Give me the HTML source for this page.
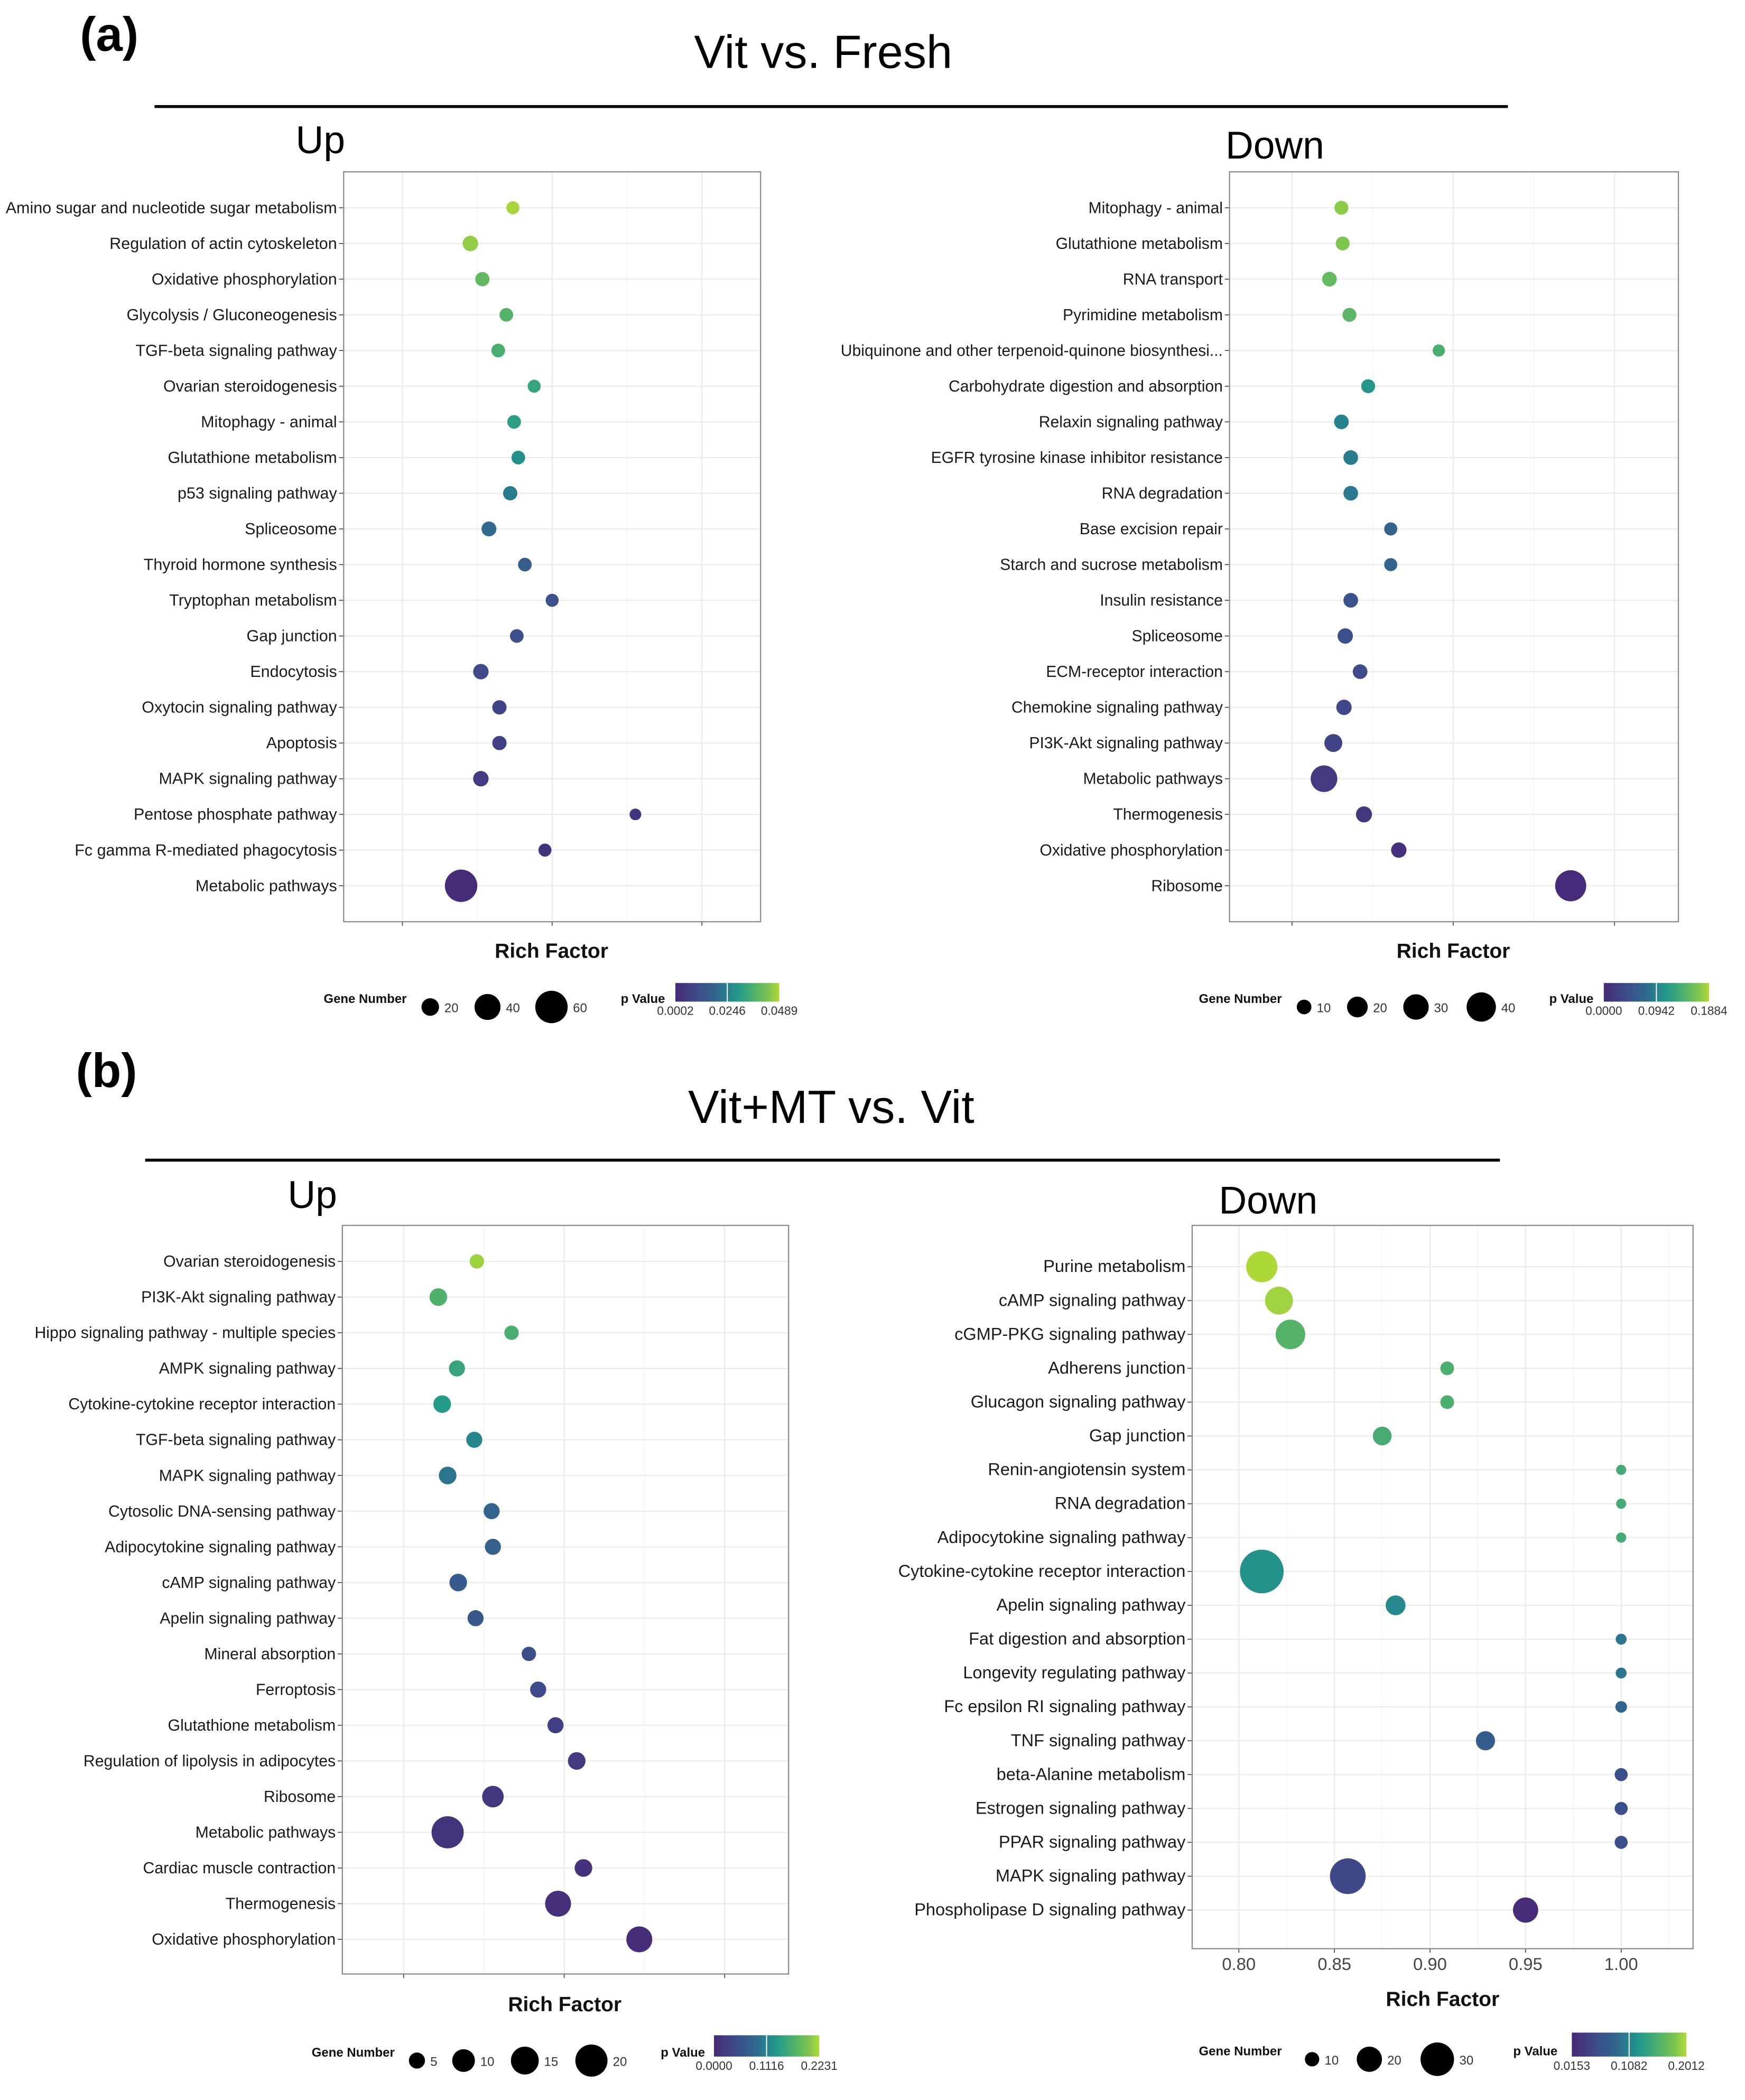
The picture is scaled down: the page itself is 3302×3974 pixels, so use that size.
<!DOCTYPE html>
<html><head><meta charset="utf-8"><title>KEGG enrichment bubble charts</title>
<style>
html,body{margin:0;padding:0;background:#fff;}
svg{display:block;font-family:"Liberation Sans",Arial,sans-serif;}
</style></head>
<body>
<svg id="fig" xmlns="http://www.w3.org/2000/svg" width="3302" height="3974" viewBox="0 0 1310 1576.6">
<defs>
<linearGradient id="vir" x1="0" x2="1" y1="0" y2="0">
<stop offset="0" stop-color="#482878"/><stop offset="0.2" stop-color="#3e4a89"/><stop offset="0.4" stop-color="#31688e"/><stop offset="0.5" stop-color="#26828e"/><stop offset="0.6" stop-color="#23998a"/><stop offset="0.75" stop-color="#4caf6e"/><stop offset="0.9" stop-color="#7dc550"/><stop offset="1" stop-color="#b0da36"/>
</linearGradient>
</defs>
<text x="60" y="38" font-size="36" font-weight="bold">(a)</text>
<text x="618" y="51" font-size="35" text-anchor="middle">Vit vs. Fresh</text>
<line x1="116" x2="1132" y1="80" y2="80" stroke="#000" stroke-width="2.2"/>
<text x="222" y="115" font-size="29">Up</text>
<text x="920" y="119" font-size="29">Down</text>
<text x="57" y="816" font-size="36" font-weight="bold">(b)</text>
<text x="624" y="843" font-size="35" text-anchor="middle">Vit+MT vs. Vit</text>
<line x1="109" x2="1126" y1="871" y2="871" stroke="#000" stroke-width="2.2"/>
<text x="216" y="907" font-size="29">Up</text>
<text x="915" y="911" font-size="29">Down</text>
<g id="plots"></g>
</svg>
<script>
// ---------- Panel a Up ----------
const aUpLabels = ["Amino sugar and nucleotide sugar metabolism","Regulation of actin cytoskeleton","Oxidative phosphorylation","Glycolysis / Gluconeogenesis","TGF-beta signaling pathway","Ovarian steroidogenesis","Mitophagy - animal","Glutathione metabolism","p53 signaling pathway","Spliceosome","Thyroid hormone synthesis","Tryptophan metabolism","Gap junction","Endocytosis","Oxytocin signaling pathway","Apoptosis","MAPK signaling pathway","Pentose phosphate pathway","Fc gamma R-mediated phagocytosis","Metabolic pathways"];
const aUpRich = [0.1369,0.1227,0.1267,0.1347,0.1320,0.1440,0.1373,0.1387,0.1360,0.1289,0.1409,0.1500,0.1382,0.1262,0.1324,0.1324,0.1262,0.1778,0.1476,0.1196];
const aUpGenes = [12,16,14,13,13,12,13,13,14,15,13,12,13,16,14,14,16,10,12,60];
const aUpP = [0.048,0.046,0.040,0.038,0.036,0.033,0.031,0.027,0.023,0.020,0.016,0.013,0.012,0.010,0.008,0.007,0.006,0.004,0.003,0.001];
const aUpTicks = [0.10,0.15,0.20];
const aUpTickLabels = ["","",""];
const aUpSizeLegend = [20,40,60];
const aUpPLegend = ["0.0002","0.0246","0.0489"];
const aUpPRange = [0.0002,0.0489];

// ---------- Panel a Down ----------
const aDnLabels = ["Mitophagy - animal","Glutathione metabolism","RNA transport","Pyrimidine metabolism","Ubiquinone and other terpenoid-quinone biosynthesi...","Carbohydrate digestion and absorption","Relaxin signaling pathway","EGFR tyrosine kinase inhibitor resistance","RNA degradation","Base excision repair","Starch and sucrose metabolism","Insulin resistance","Spliceosome","ECM-receptor interaction","Chemokine signaling pathway","PI3K-Akt signaling pathway","Metabolic pathways","Thermogenesis","Oxidative phosphorylation","Ribosome"];
const aDnRich = [0.0653,0.0657,0.0616,0.0678,0.0955,0.0736,0.0653,0.0682,0.0682,0.0806,0.0806,0.0682,0.0665,0.0711,0.0661,0.0628,0.0599,0.0723,0.0831,0.1364];
const aDnGenes = [9,9,10,9,7,9,10,10,10,8,8,10,11,10,11,15,33,12,11,45];
const aDnP = [0.175,0.170,0.155,0.150,0.140,0.110,0.095,0.090,0.088,0.070,0.070,0.050,0.045,0.040,0.035,0.030,0.020,0.015,0.010,0.002];
const aDnTicks = [0.05,0.10,0.15];
const aDnTickLabels = ["","",""];
const aDnSizeLegend = [10,20,30,40];
const aDnPLegend = ["0.0000","0.0942","0.1884"];
const aDnPRange = [0,0.1884];

// ---------- Panel b Up ----------
const bUpLabels = ["Ovarian steroidogenesis","PI3K-Akt signaling pathway","Hippo signaling pathway - multiple species","AMPK signaling pathway","Cytokine-cytokine receptor interaction","TGF-beta signaling pathway","MAPK signaling pathway","Cytosolic DNA-sensing pathway","Adipocytokine signaling pathway","cAMP signaling pathway","Apelin signaling pathway","Mineral absorption","Ferroptosis","Glutathione metabolism","Regulation of lipolysis in adipocytes","Ribosome","Metabolic pathways","Cardiac muscle contraction","Thermogenesis","Oxidative phosphorylation"];
const bUpRich = [0.1228,0.1108,0.1336,0.1166,0.1120,0.1220,0.1137,0.1274,0.1278,0.1170,0.1224,0.1390,0.1419,0.1473,0.1539,0.1278,0.1137,0.1560,0.1481,0.1734];
const bUpGenes = [4,6,4,5,6,5,6,5,5,6,5,4,5,5,6,9,20,6,13,13];
const bUpP = [0.215,0.170,0.165,0.150,0.135,0.115,0.100,0.085,0.080,0.070,0.065,0.050,0.045,0.030,0.025,0.020,0.015,0.012,0.010,0.005];
const bUpTicks = [0.10,0.15,0.20];
const bUpTickLabels = ["","",""];
const bUpSizeLegend = [5,10,15,20];
const bUpPLegend = ["0.0000","0.1116","0.2231"];
const bUpPRange = [0,0.2231];

// ---------- Panel b Down ----------
const bDnLabels = ["Purine metabolism","cAMP signaling pathway","cGMP-PKG signaling pathway","Adherens junction","Glucagon signaling pathway","Gap junction","Renin-angiotensin system","RNA degradation","Adipocytokine signaling pathway","Cytokine-cytokine receptor interaction","Apelin signaling pathway","Fat digestion and absorption","Longevity regulating pathway","Fc epsilon RI signaling pathway","TNF signaling pathway","beta-Alanine metabolism","Estrogen signaling pathway","PPAR signaling pathway","MAPK signaling pathway","Phospholipase D signaling pathway"];
const bDnRich = [0.812,0.821,0.827,0.909,0.909,0.875,1.000,1.000,1.000,0.812,0.882,1.000,1.000,1.000,0.929,1.000,1.000,1.000,0.857,0.950];
const bDnGenes = [27,23,25,9.5,9.5,13.6,7,7,7,45,14.6,7.5,7.5,8,14,9,9,9,33,20];
const bDnP = [0.200,0.195,0.160,0.155,0.155,0.150,0.150,0.150,0.150,0.120,0.115,0.100,0.100,0.085,0.075,0.060,0.060,0.060,0.050,0.020];
const bDnTicks = [0.80,0.85,0.90,0.95,1.00];
const bDnTickLabels = ["0.80","0.85","0.90","0.95","1.00"];
const bDnSizeLegend = [10,20,30];
const bDnPLegend = ["0.0153","0.1082","0.2012"];
const bDnPRange = [0.0153,0.2012];

const NS = "http://www.w3.org/2000/svg";
const root = document.getElementById("plots");
const stops = [[0,[72,40,120]],[0.2,[62,74,137]],[0.4,[49,104,142]],[0.5,[38,130,142]],[0.6,[35,153,138]],[0.75,[76,175,110]],[0.9,[125,197,80]],[1,[176,218,54]]];
function viridis(t){
  t = Math.max(0,Math.min(1,t));
  for(let i=1;i<stops.length;i++){
    if(t<=stops[i][0]){
      const a=stops[i-1],b=stops[i],f=(t-a[0])/(b[0]-a[0]);
      const c=a[1].map((v,k)=>Math.round(v+(b[1][k]-v)*f));
      return "rgb("+c.join(",")+")";
    }
  }
  return "rgb(176,218,54)";
}
function mk(tag, attrs, parent){
  const e=document.createElementNS(NS,tag);
  for(const k in attrs) e.setAttribute(k,attrs[k]);
  (parent||root).appendChild(e);
  return e;
}

function drawPanel(id, L, labels, rich, genes, pv, ticks, tickLabels, sizeLeg, pLeg, pRange){
  const g = mk("g",{});
  
  
  const sx = v => L.x0 + (v - L.d0)/(L.d1 - L.d0)*(L.x1 - L.x0);
  const n = labels.length;
  const sy = i => L.r0 + i*(L.rN - L.r0)/(n-1);
  const rad = v => L.ka*Math.sqrt(v)+L.kb;
  const bg = mk("rect",{x:L.x0,y:L.y0,width:L.x1-L.x0,height:L.y1-L.y0,fill:"#fff"},g);
  
  
  const step = ticks[1]-ticks[0];
  for(let k=-1;k<ticks.length;k++){
    const v = ticks[0]+step*(k+0.5);
    const x = sx(v);
    if(x>L.x0 && x<L.x1){
      const ml = mk("line",{x1:x,x2:x,y1:L.y0,y2:L.y1,stroke:"#f4f4f4","stroke-width":0.6},g);
      
      
    }
  }
  ticks.forEach((v,k)=>{
    const x = sx(v);
    const gl = mk("line",{x1:x,x2:x,y1:L.y0,y2:L.y1,stroke:"#ebebeb","stroke-width":0.9},g);
    
    
    const tk = mk("line",{x1:x,x2:x,y1:L.y1,y2:L.y1+3,stroke:"#333","stroke-width":0.6},g);
    
    
    if(tickLabels[k]){
      const tl = mk("text",{x:x,y:L.y1+16,"font-size":13,"text-anchor":"middle",fill:"#444"},g);
      tl.textContent = tickLabels[k];
      
      
    }
  });
  labels.forEach((lab,i)=>{
    const y = sy(i);
    const hl = mk("line",{x1:L.x0,x2:L.x1,y1:y,y2:y,stroke:"#ebebeb","stroke-width":0.9},g);
    
    
    const tk = mk("line",{x1:L.x0-3.5,x2:L.x0,y1:y,y2:y,stroke:"#333","stroke-width":0.6},g);
    
    
    const t = mk("text",{x:L.x0-5,y:y+4,"font-size":L.fs,"text-anchor":"end",fill:"#1a1a1a"},g);
    t.textContent = lab;
    
    
  });
  const frame = mk("rect",{x:L.x0,y:L.y0,width:L.x1-L.x0,height:L.y1-L.y0,fill:"none",stroke:"#8a8a8a","stroke-width":0.9},g);
  
  
  labels.forEach((lab,i)=>{
    const c = mk("circle",{cx:sx(rich[i]),cy:sy(i),r:rad(genes[i]),fill:viridis((pv[i]-pRange[0])/(pRange[1]-pRange[0]))},g);
    
    
  });
  const xt = mk("text",{x:L.xt,y:L.yt,"font-size":15.5,"font-weight":"bold","text-anchor":"middle",fill:"#111"},g);
  xt.textContent = "Rich Factor";
  
  
  const lg = L.leg;
  const gt = mk("text",{x:lg.gx,y:lg.ly,"font-size":9.5,"font-weight":"bold",fill:"#111"},g);
  gt.textContent = "Gene Number";
  
  
  sizeLeg.forEach((v,k)=>{
    const r = rad(v);
    const cx = lg.cs[k];
    const lc = mk("circle",{cx:cx,cy:lg.ly+3,r:r,fill:"#000"},g);
    
    
    const lt = mk("text",{x:cx+r+4,y:lg.ly+7,"font-size":9.5,fill:"#333"},g);
    lt.textContent = String(v);
    
    
  });
  const pt = mk("text",{x:lg.px,y:lg.ly,"font-size":9.5,"font-weight":"bold",fill:"#111"},g);
  pt.textContent = "p Value";
  
  
  const bar = mk("rect",{x:lg.bx,y:lg.by,width:lg.bw,height:lg.bh,fill:"url(#vir)"},g);
  
  
  pLeg.forEach((s,k)=>{
    const x = lg.bx + k*lg.bw/(pLeg.length-1);
    if(k>0 && k<pLeg.length-1){
      const w = mk("line",{x1:x,x2:x,y1:lg.by,y2:lg.by+lg.bh,stroke:"#fff","stroke-width":0.8},g);
      
      
    }
    const t = mk("text",{x:x,y:lg.by+lg.bh+10,"font-size":9,"text-anchor":"middle",fill:"#333"},g);
    t.textContent = s;
    
    
  });
}

drawPanel("a-up",{x0:258,x1:571,y0:129,y1:692,r0:156,rN:665,d0:0.0804,d1:0.2196,ka:1.7,kb:-1,fs:12.1,xt:414,yt:719,
  leg:{gx:243,ly:753,cs:[323,366,414],px:466,bx:507,by:738,bw:78,bh:14}},
  aUpLabels,aUpRich,aUpGenes,aUpP,aUpTicks,aUpTickLabels,aUpSizeLegend,aUpPLegend,aUpPRange);
drawPanel("a-down",{x0:923,x1:1260,y0:129,y1:692,r0:156,rN:665,d0:0.0306,d1:0.1698,ka:1.74,kb:0,fs:11.95,xt:1091,yt:719,
  leg:{gx:900,ly:753,cs:[979,1019,1063,1112],px:1163,bx:1204,by:738,bw:79,bh:14}},
  aDnLabels,aDnRich,aDnGenes,aDnP,aDnTicks,aDnTickLabels,aDnSizeLegend,aDnPLegend,aDnPRange);
drawPanel("b-up",{x0:257,x1:592,y0:920,y1:1482,r0:947,rN:1456,d0:0.0809,d1:0.2199,ka:2.7,kb:0,fs:12.0,xt:424,yt:1510,
  leg:{gx:234,ly:1544,cs:[313,348,394,444],px:496,bx:536,by:1528,bw:79,bh:16}},
  bUpLabels,bUpRich,bUpGenes,bUpP,bUpTicks,bUpTickLabels,bUpSizeLegend,bUpPLegend,bUpPRange);
drawPanel("b-down",{x0:895,x1:1271,y0:920,y1:1463,r0:951,rN:1434,d0:0.7756,d1:1.0376,ka:3.1,kb:-4.4,fs:12.9,xt:1083,yt:1506,
  leg:{gx:900,ly:1543,cs:[985,1028,1079],px:1136,bx:1180,by:1526,bw:86,bh:18}},
  bDnLabels,bDnRich,bDnGenes,bDnP,bDnTicks,bDnTickLabels,bDnSizeLegend,bDnPLegend,bDnPRange);
</script>
</body></html>
